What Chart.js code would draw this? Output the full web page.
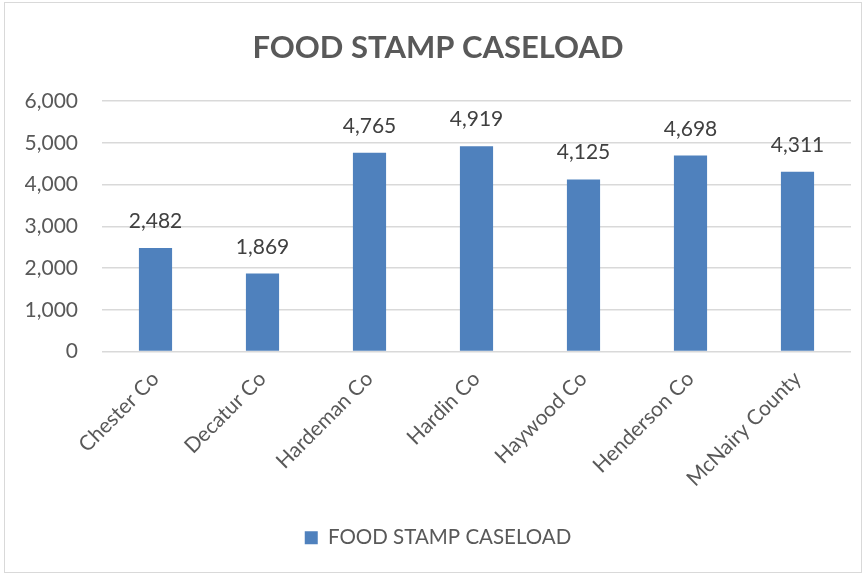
<!DOCTYPE html>
<html>
<head>
<meta charset="utf-8">
<script src="https://cdn.jsdelivr.net/npm/chart.js@4/dist/chart.umd.min.js"></script>
<style>
  html, body { margin: 0; padding: 0; background: #fff; }
  #wrap { width: 865px; height: 575px; position: relative; }
</style>
</head>
<body>
<div id="wrap"><canvas id="c" width="865" height="575"></canvas></div>
<script>
const categories = ["Chester Co", "Decatur Co", "Hardeman Co", "Hardin Co", "Haywood Co", "Henderson Co", "McNairy County"];
const caseload = [2482, 1869, 4765, 4919, 4125, 4698, 4311];
const seriesName = "FOOD STAMP CASELOAD";
const chartTitle = "FOOD STAMP CASELOAD";
const yMin = 0, yMax = 6000, yStep = 1000;

const FONT = "Lato, 'Open Sans', sans-serif";
const fmt = v => v.toLocaleString('en-US');

const frame = {
  id: 'frame',
  beforeDraw(chart) {
    const ctx = chart.ctx;
    ctx.save();
    ctx.fillStyle = '#ffffff';
    ctx.fillRect(0, 0, chart.width, chart.height);
    ctx.strokeStyle = '#d9d9d9';
    ctx.lineWidth = 1;
    ctx.strokeRect(4.5, 2.5, chart.width - 8, chart.height - 5);
    ctx.restore();
  }
};

const dataLabels = {
  id: 'dataLabels',
  afterDatasetsDraw(chart) {
    const ctx = chart.ctx;
    ctx.save();
    ctx.font = "21px " + FONT;
    ctx.fillStyle = '#404040';
    ctx.textAlign = 'center';
    ctx.textBaseline = 'alphabetic';
    const meta = chart.getDatasetMeta(0);
    meta.data.forEach((bar, i) => {
      ctx.fillText(fmt(chart.data.datasets[0].data[i]), bar.x, bar.y - 20);
    });
    ctx.restore();
  }
};

new Chart(document.getElementById('c'), {
  type: 'bar',
  data: {
    labels: categories,
    datasets: [{
      label: seriesName,
      data: caseload,
      backgroundColor: '#4F81BD',
      borderColor: '#4F81BD',
      borderWidth: 0,
      categoryPercentage: 1.0,
      barPercentage: 0.31
    }]
  },
  options: {
    responsive: false,
    animation: false,
    layout: { padding: { left: 25, right: 14, top: 3, bottom: 17 } },
    plugins: {
      title: {
        display: true,
        text: chartTitle,
        color: '#595959',
        font: { family: FONT, size: 31, weight: 'bold' },
        padding: { top: 26, bottom: 35 }
      },
      legend: {
        position: 'bottom',
        labels: {
          color: '#595959',
          font: { family: FONT, size: 20.5 },
          boxWidth: 13,
          boxHeight: 13,
          padding: 10
        }
      },
      tooltip: { enabled: false }
    },
    scales: {
      x: {
        grid: { display: false, drawTicks: false },
        border: { display: false },
        ticks: {
          color: '#595959',
          font: { family: FONT, size: 21 },
          minRotation: 45,
          maxRotation: 45,
          padding: 15,
          autoSkip: false
        },
        afterFit(scale) { scale.height = 166; }
      },
      y: {
        min: yMin,
        max: yMax,
        grid: { color: '#d9d9d9', lineWidth: 1.5, drawTicks: false },
        border: { display: false },
        ticks: {
          stepSize: yStep,
          color: '#595959',
          font: { family: FONT, size: 21 },
          padding: 24,
          callback: v => fmt(v)
        },
        afterFit(scale) { scale.width = 77; }
      }
    }
  },
  plugins: [frame, dataLabels]
});
</script>
</body>
</html>
